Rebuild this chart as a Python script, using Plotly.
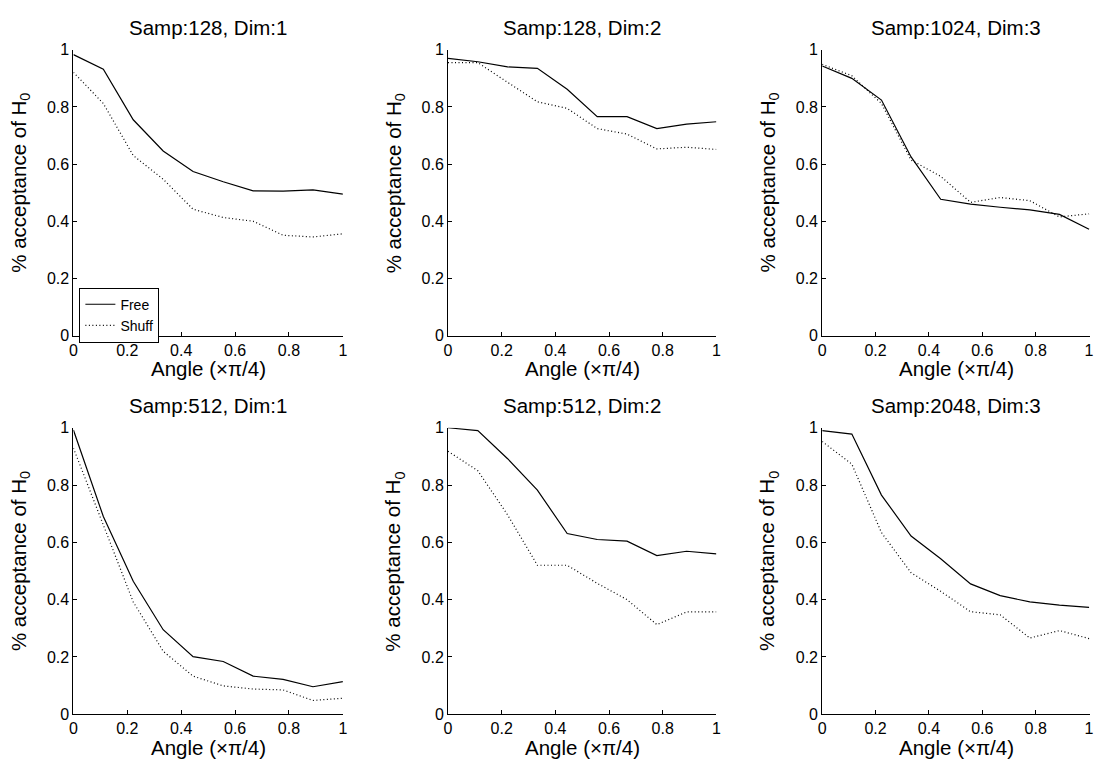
import plotly.graph_objects as go

# Angle values (x pi/4), shared by every panel
angles = [0.0, 0.111, 0.222, 0.333, 0.444, 0.556, 0.667, 0.778, 0.889, 1.0]

titles = ['Samp:128, Dim:1', 'Samp:128, Dim:2', 'Samp:1024, Dim:3',
          'Samp:512, Dim:1', 'Samp:512, Dim:2', 'Samp:2048, Dim:3']

# Free (solid) curves
free_128_d1 = [0.983, 0.932, 0.755, 0.646, 0.574, 0.538, 0.506, 0.505, 0.510, 0.495]
free_128_d2 = [0.970, 0.958, 0.940, 0.935, 0.862, 0.766, 0.766, 0.724, 0.740, 0.748]
free_1024_d3 = [0.943, 0.900, 0.824, 0.625, 0.477, 0.460, 0.449, 0.440, 0.424, 0.372]
free_512_d1 = [0.992, 0.690, 0.464, 0.295, 0.201, 0.184, 0.133, 0.122, 0.096, 0.114]
free_512_d2 = [1.000, 0.990, 0.892, 0.782, 0.631, 0.610, 0.604, 0.554, 0.569, 0.560]
free_2048_d3 = [0.990, 0.978, 0.765, 0.622, 0.543, 0.455, 0.414, 0.392, 0.381, 0.373]

# Shuff (dotted) curves
shuff_128_d1 = [0.921, 0.812, 0.630, 0.547, 0.442, 0.413, 0.400, 0.351, 0.345, 0.356]
shuff_128_d2 = [0.955, 0.955, 0.886, 0.818, 0.795, 0.724, 0.705, 0.653, 0.659, 0.651]
shuff_1024_d3 = [0.949, 0.909, 0.812, 0.614, 0.557, 0.466, 0.483, 0.472, 0.415, 0.426]
shuff_512_d1 = [0.929, 0.660, 0.392, 0.220, 0.133, 0.099, 0.088, 0.085, 0.048, 0.056]
shuff_512_d2 = [0.918, 0.850, 0.696, 0.520, 0.520, 0.457, 0.400, 0.313, 0.357, 0.357]
shuff_2048_d3 = [0.952, 0.873, 0.634, 0.494, 0.429, 0.358, 0.347, 0.266, 0.292, 0.264]

free_all = [free_128_d1, free_128_d2, free_1024_d3, free_512_d1, free_512_d2, free_2048_d3]
shuff_all = [shuff_128_d1, shuff_128_d2, shuff_1024_d3, shuff_512_d1, shuff_512_d2, shuff_2048_d3]

W, H = 1095, 765
FONT = 'Liberation Sans, Arial, Helvetica, sans-serif'
TXT = 20.5

# plot boxes in pixels: (left, right) per column, (top, bottom) per row
cols_px = [(70, 341.7), (447.7, 718.3), (825, 1095)]
rows_px = [(42.7, 335), (429.3, 722.3)]

fig = go.Figure()
annotations = []

for i in range(6):
    r, c = divmod(i, 3)
    x0, x1 = cols_px[c]
    y0, y1 = rows_px[r]
    n = '' if i == 0 else str(i + 1)
    xdom = [x0 / W, min(x1 / W, 1.0)]
    ydom = [1 - y1 / H, 1 - y0 / H]
    xmax = 1.0035 if c == 2 else 1.0

    fig.add_trace(go.Scatter(x=angles, y=free_all[i], mode='lines', name='Free',
                             line=dict(color='black', width=1.2),
                             showlegend=(i == 0), xaxis='x' + n, yaxis='y' + n))
    fig.add_trace(go.Scatter(x=angles, y=shuff_all[i], mode='lines', name='Shuff',
                             line=dict(color='black', width=1.2, dash='1px,2.5px'),
                             showlegend=(i == 0), xaxis='x' + n, yaxis='y' + n))

    axis_common = dict(showline=True, linecolor='black', linewidth=1, mirror=False,
                       showgrid=False, zeroline=False, ticks='inside', ticklen=4,
                       tickcolor='black', tickfont=dict(size=16, color='black', family=FONT),
                       tickvals=[0, 0.2, 0.4, 0.6, 0.8, 1], ticktext=['0', '0.2', '0.4', '0.6', '0.8', '1'])
    fig.layout['xaxis' + n] = dict(domain=xdom, range=[0, xmax], anchor='y' + n, **axis_common)
    fig.layout['yaxis' + n] = dict(domain=ydom, range=[0, 1], anchor='x' + n, **axis_common)

    cx = (x0 + x1) / 2 / W
    # subplot title
    annotations.append(dict(text=titles[i], x=cx, y=1 - (y0 - 23) / H, xref='paper', yref='paper',
                            showarrow=False, xanchor='center', yanchor='middle',
                            font=dict(size=TXT, color='black', family=FONT)))
    # x axis title
    annotations.append(dict(text='Angle (\u00d7\u03c0/4)', x=cx, y=1 - (y1 + 34) / H, xref='paper', yref='paper',
                            showarrow=False, xanchor='center', yanchor='middle',
                            font=dict(size=TXT, color='black', family=FONT)))
    # y axis title
    annotations.append(dict(text='% acceptance of H<sub>0</sub>', x=(x0 - 54) / W, y=1 - ((y0 + y1) / 2 - 10) / H,
                            xref='paper', yref='paper', textangle=-90,
                            showarrow=False, xanchor='center', yanchor='middle',
                            font=dict(size=TXT, color='black', family=FONT)))

fig.update_layout(
    width=W, height=H,
    margin=dict(l=0, r=0, t=0, b=0),
    paper_bgcolor='white', plot_bgcolor='white',
    annotations=annotations,
    legend=dict(x=76 / W, y=1 - 286 / H, xanchor='left', yanchor='top',
                bordercolor='black', borderwidth=1, bgcolor='white',
                font=dict(size=14, color='black', family=FONT),
                tracegroupgap=0, itemwidth=30),
)

fig.write_html('out.html', config={'displayModeBar': False},
               post_script="document.body.style.margin='0';document.body.style.overflow='hidden';")
